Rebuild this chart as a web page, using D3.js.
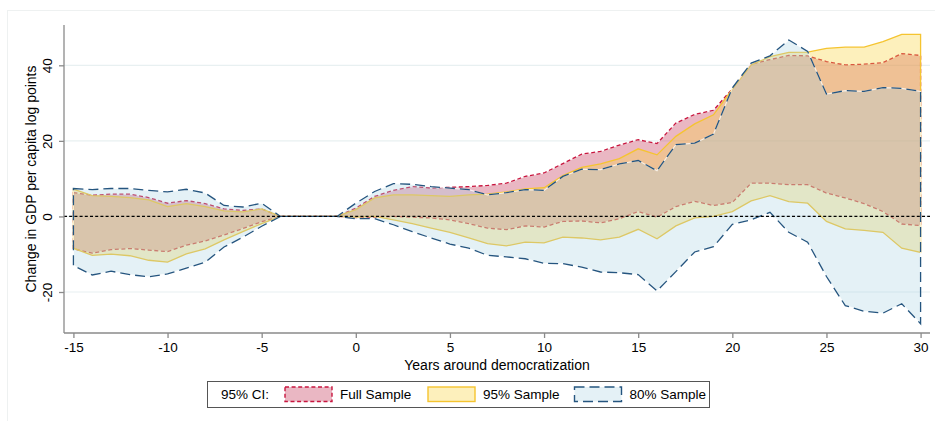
<!DOCTYPE html>
<html>
<head>
<meta charset="utf-8">
<script src="https://cdn.jsdelivr.net/npm/d3@7"></script>
<style>
  html, body { margin: 0; padding: 0; background: #fff; }
  svg { display: block; font-family: "Liberation Sans", Arial, Helvetica, sans-serif; }
</style>
</head>
<body>
<svg id="chart" width="935" height="421"></svg>
<script>
// Years relative to democratization
const years = d3.range(-15, 31);

// 95% confidence bands, change in GDP per capita (log points x100)
const fullUpper = [6.3, 5.6, 5.9, 5.9, 5.0, 3.5, 4.2, 3.4, 2.0, 1.6, 2.0, 0, 0, 0, 0,
  2.2, 5.3, 6.9, 7.9, 7.5, 7.7, 7.9, 8.2, 8.8, 10.6, 11.5, 14.0, 16.5, 17.2, 18.9,
  20.3, 19.3, 24.7, 27.0, 28.1, 33.8, 40.3, 41.5, 42.6, 42.5, 41.0, 40.1, 40.3, 40.7, 43.1, 42.6];
const fullLower = [-8.6, -9.7, -8.8, -8.5, -8.9, -9.3, -7.6, -6.5, -4.9, -3.2, -1.4, 0, 0, 0, 0,
  -0.4, -0.2, 0.0, -0.2, -0.4, -0.9, -1.9, -3.1, -3.5, -2.5, -2.8, -1.3, -1.2, -1.7, -0.6,
  1.3, -0.2, 2.6, 4.0, 2.9, 3.7, 8.8, 8.8, 8.4, 8.4, 6.2, 4.9, 3.4, 1.3, -2.0, -2.4];

const s95Upper = [7.2, 5.5, 5.3, 5.0, 4.4, 2.6, 3.4, 2.6, 1.5, 1.2, 2.0, 0, 0, 0, 0,
  1.8, 4.9, 5.7, 5.7, 5.5, 5.3, 5.7, 5.9, 6.5, 7.3, 7.6, 10.8, 13.0, 13.9, 15.3,
  17.9, 16.3, 21.2, 24.5, 26.9, 33.7, 40.1, 42.3, 43.4, 43.5, 44.5, 44.8, 44.8, 46.3, 48.2, 48.2];
const s95Lower = [-8.4, -10.3, -10.0, -10.4, -11.6, -12.1, -9.9, -8.6, -6.2, -4.0, -1.9, 0, 0, 0, 0,
  -0.2, 0.0, -0.9, -1.9, -3.1, -4.2, -5.7, -7.2, -7.8, -6.8, -7.0, -5.5, -5.7, -6.2, -5.5,
  -3.4, -5.9, -2.5, -0.4, 0.0, 1.3, 4.1, 5.5, 3.9, 3.5, -1.3, -3.3, -3.7, -4.2, -8.4, -9.5];

const s80Upper = [7.4, 7.1, 7.4, 7.4, 6.9, 6.5, 7.2, 6.2, 2.9, 2.5, 3.5, 0, 0, 0, 0,
  3.5, 6.6, 8.7, 8.5, 7.9, 7.5, 7.1, 5.7, 6.3, 7.1, 6.9, 10.6, 12.5, 12.4, 13.9,
  14.8, 12.1, 19.0, 19.4, 21.8, 34.0, 40.6, 42.5, 46.7, 43.7, 32.4, 33.3, 33.1, 34.1, 33.9, 33.1];
const s80Lower = [-13.0, -15.5, -14.5, -15.4, -16.0, -15.2, -13.7, -12.1, -8.1, -5.5, -2.6, 0, 0, 0, 0,
  -0.6, -0.6, -2.2, -4.0, -5.7, -7.3, -8.4, -10.3, -10.7, -11.2, -12.4, -12.5, -13.4, -14.7, -14.9,
  -15.4, -19.7, -14.6, -9.4, -8.0, -2.1, -0.9, 1.1, -4.2, -6.8, -15.9, -23.6, -25.1, -25.6, -23.1, -28.4];

const xTicks = [-15, -10, -5, 0, 5, 10, 15, 20, 25, 30];
const yTicks = [-20, 0, 20, 40];
const seriesNames = ["Full Sample", "95% Sample", "80% Sample"];

const svg = d3.select("#chart");
const plot = { left: 64, right: 930, top: 25, bottom: 333 };

const x = d3.scaleLinear().domain([-15.5, 30.5]).range([plot.left, plot.right]);
const y = d3.scaleLinear().domain([-30.85, 50.67]).range([plot.bottom, plot.top]);

// faint outer frame of the graph region
svg.append("rect")
  .attr("x", 7.5).attr("y", 10.5).attr("width", 940).attr("height", 420)
  .attr("fill", "none").attr("stroke", "#eef1f1").attr("stroke-width", 1);

// horizontal grid
svg.append("g")
  .selectAll("line").data(yTicks).join("line")
  .attr("x1", plot.left).attr("x2", plot.right)
  .attr("y1", d => y(d)).attr("y2", d => y(d))
  .attr("stroke", "#e8f0f1").attr("stroke-width", 1.2);

const styles = [
  { lo: fullLower, hi: fullUpper, fill: "rgb(200,66,96)", op: 0.38, stroke: "#c8163f", dash: "4,2.6", width: 1.3 },
  { lo: s95Lower, hi: s95Upper, fill: "rgb(250,212,62)", op: 0.35, stroke: "#f5c430", dash: null, width: 1.3 },
  { lo: s80Lower, hi: s80Upper, fill: "rgb(165,210,224)", op: 0.3, stroke: "#25557f", dash: "10,5", width: 1.3 }
];

const bandArea = s => d3.area()
  .x((d, i) => x(years[i]))
  .y0((d, i) => y(s.lo[i]))
  .y1((d, i) => y(s.hi[i]));

styles.forEach(s => {
  const g = svg.append("g");
  g.append("path")
    .attr("d", bandArea(s)(years))
    .attr("fill", s.fill).attr("fill-opacity", s.op).attr("stroke", "none");
  // closed outline: upper edge, right edge, lower edge, left edge
  const n = years.length;
  const outline = "M" + d3.range(n).map(i => [x(years[i]), y(s.hi[i])]).join("L") +
    "L" + d3.range(n - 1, -1, -1).map(i => [x(years[i]), y(s.lo[i])]).join("L") + "Z";
  if (s.dash) {
    g.append("path").attr("d", outline)
      .attr("fill", "none").attr("stroke", "#fff").attr("stroke-opacity", 0.75)
      .attr("stroke-width", 1.1);
  }
  g.append("path").attr("d", outline)
    .attr("fill", "none").attr("stroke", s.stroke).attr("stroke-width", s.width)
    .attr("stroke-dasharray", s.dash).attr("stroke-linejoin", "miter");
});

// zero reference line
svg.append("line")
  .attr("x1", plot.left).attr("x2", plot.right)
  .attr("y1", y(0)).attr("y2", y(0))
  .attr("stroke", "#000").attr("stroke-width", 1.3).attr("stroke-dasharray", "3,2.2");

// axes
const xAxis = svg.append("g").attr("transform", `translate(0,${plot.bottom})`)
  .call(d3.axisBottom(x).tickValues(xTicks).tickSize(5).tickPadding(4).tickFormat(d3.format("d")));
xAxis.select(".domain").attr("stroke", "#8a8a8a").attr("stroke-width", 1.3)
  .attr("d", `M${plot.left},0H${plot.right}`);
xAxis.selectAll(".tick line").attr("stroke", "#8a8a8a").attr("stroke-width", 1.3);
xAxis.selectAll(".tick text").attr("fill", "#000").attr("font-size", 13.5)
  .attr("font-family", "Liberation Sans, Arial, sans-serif")
  .text(d => d < 0 ? "-" + Math.abs(d) : d);

const yAxis = svg.append("g").attr("transform", `translate(${plot.left},0)`)
  .call(d3.axisLeft(y).tickValues(yTicks).tickSize(5).tickPadding(0).tickFormat(d3.format("d")));
yAxis.select(".domain").attr("stroke", "#8a8a8a").attr("stroke-width", 1.3)
  .attr("d", `M0,${plot.top}V${plot.bottom}`);
yAxis.selectAll(".tick line").attr("stroke", "#8a8a8a").attr("stroke-width", 1.3);
yAxis.selectAll(".tick text")
  .attr("fill", "#000").attr("font-size", 13.5)
  .attr("font-family", "Liberation Sans, Arial, sans-serif")
  .attr("x", null).attr("dy", null)
  .attr("text-anchor", "middle")
  .attr("transform", "translate(-12,0) rotate(-90)")
  .text(d => d < 0 ? "-" + Math.abs(d) : d);

// axis titles
svg.append("text")
  .attr("x", (plot.left + plot.right) / 2).attr("y", 370)
  .attr("text-anchor", "middle").attr("font-size", 14)
  .text("Years around democratization");

svg.append("text")
  .attr("transform", `translate(36,${(plot.top + plot.bottom) / 2}) rotate(-90)`)
  .attr("text-anchor", "middle").attr("font-size", 14)
  .text("Change in GDP per capita log points");

// legend
const legend = svg.append("g");
legend.append("rect")
  .attr("x", 207.5).attr("y", 381.5).attr("width", 502).attr("height", 26)
  .attr("fill", "#fff").attr("stroke", "#555").attr("stroke-width", 1);
legend.append("text").attr("x", 221).attr("y", 399).attr("font-size", 13.5).text("95% CI:");

const swX = [285, 428, 574.5];
styles.forEach((s, i) => {
  legend.append("rect")
    .attr("x", swX[i]).attr("y", 387).attr("width", 47).attr("height", 14.5)
    .attr("fill", s.fill).attr("fill-opacity", s.op)
    .attr("stroke", s.stroke).attr("stroke-width", 1.4)
    .attr("stroke-dasharray", s.dash);
  legend.append("text")
    .attr("x", swX[i] + 55).attr("y", 399).attr("font-size", 13.5)
    .text(seriesNames[i]);
});
</script>
</body>
</html>
